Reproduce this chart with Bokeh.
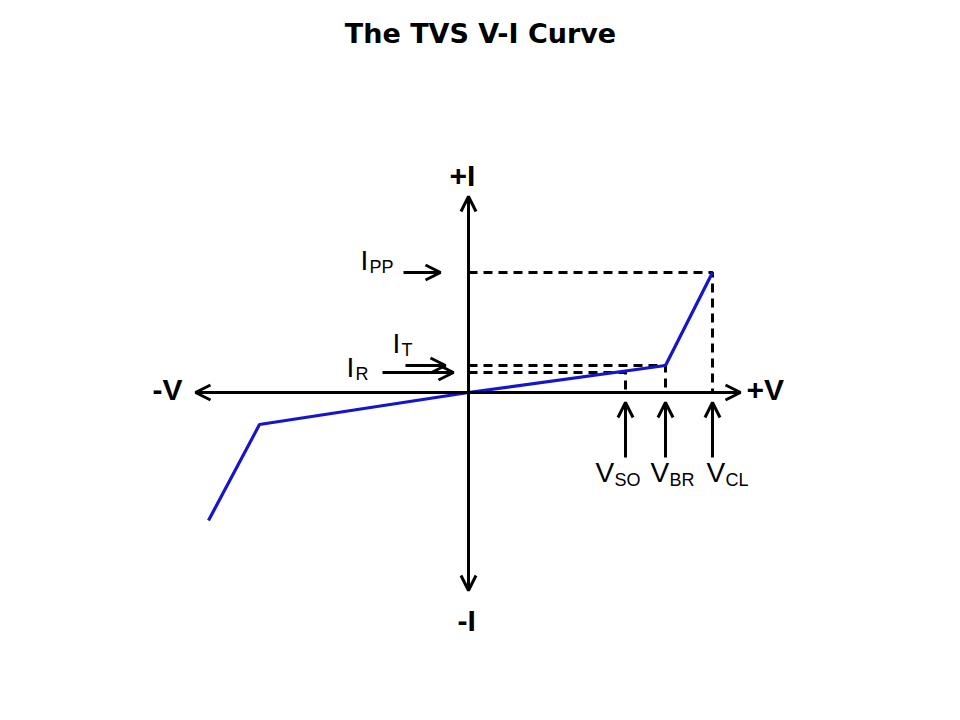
from bokeh.plotting import figure
from bokeh.models import Range1d, Arrow, OpenHead
from bokeh.core.properties import value
from bokeh.embed import file_html
from bokeh.resources import INLINE

# ---- data (diagram units, origin at the axis crossing) ----
curve_v = [-260, -209, 0, 197, 244]
curve_i = [-128, -32, 0, 27, 120]

v_names = ["SO", "BR", "CL"]
v_marks = [157, 197, 244]          # V_SO, V_BR, V_CL

i_names = ["R", "T", "PP"]
i_marks = [20, 27, 120]            # I_R, I_T, I_PP
i_arrow_start = [-86, -63, -65]
i_arrow_end = [-15, -23, -28]

axis_v = [-273, 272]
axis_i = [-198, 196]

title = "The TVS V-I Curve"

FONT = "Liberation Sans"
BLUE = "#1515cc"
DY = 10  # text baseline correction

p = figure(width=944, height=704, output_backend="svg", toolbar_location=None,
           x_range=Range1d(-468, 476), y_range=Range1d(-312, 392),
           min_border=0)
p.axis.visible = False
p.grid.visible = False
p.outline_line_color = None
p.background_fill_color = "white"

# dashed reference lines
xs, ys = [], []
for vm, im in zip(v_marks, i_marks):
    xs.append([0, vm, vm])
    ys.append([im, im, 0])
p.multi_line(xs, ys, line_color="black", line_width=3, line_dash="9 6")

# V-I curve
p.line(curve_v, curve_i, line_color=BLUE, line_width=3.2)

# axes with arrow heads
def head():
    return OpenHead(size=15, line_width=3, line_color="black")

p.add_layout(Arrow(start=head(), end=head(), x_start=axis_v[0], y_start=0,
                   x_end=axis_v[1], y_end=0, line_width=3, line_color="black"))
p.add_layout(Arrow(start=head(), end=head(), x_start=0, y_start=axis_i[0],
                   x_end=0, y_end=axis_i[1], line_width=3, line_color="black"))

# current label arrows
for im, a0, a1 in zip(i_marks, i_arrow_start, i_arrow_end):
    p.add_layout(Arrow(end=head(), x_start=a0, y_start=im, x_end=a1, y_end=im,
                       line_width=3, line_color="black"))

# voltage label arrows
for vm in v_marks:
    p.add_layout(Arrow(end=head(), x_start=vm, y_start=-65, x_end=vm, y_end=-10,
                       line_width=3, line_color="black"))

# axis labels
p.text(x=[-19, -11, -316, 278], y=[207 + DY, -238 + DY, -7 + DY, -7 + DY],
       text=["+I", "-I", "-V", "+V"],
       text_font=value(FONT), text_font_style="bold", text_font_size="30px",
       text_color="black", text_align="left", text_baseline="alphabetic")

# current labels (I with subscript)
i_lab_x = [-122, -76, -108]
i_lab_y = [15 + DY, 39 + DY, 122 + DY]
p.text(x=i_lab_x, y=i_lab_y, text=["I"] * 3, text_font=value(FONT),
       text_font_size="28px", text_color="black", text_baseline="alphabetic")
p.text(x=[x + 9 for x in i_lab_x], y=[y - 6 for y in i_lab_y], text=i_names,
       text_font=value(FONT), text_font_size="18px", text_color="black",
       text_baseline="alphabetic")

# voltage labels (V with subscript)
v_lab_x = [127, 182, 238]
p.text(x=v_lab_x, y=[-90 + DY] * 3, text=["V"] * 3, text_font=value(FONT),
       text_font_size="28px", text_color="black", text_baseline="alphabetic")
p.text(x=[x + 19 for x in v_lab_x], y=[-97 + DY] * 3, text=v_names,
       text_font=value(FONT), text_font_size="18px", text_color="black",
       text_baseline="alphabetic")

# title
p.text(x=[12], y=[359], text=[title], text_font=value("DejaVu Sans"),
       text_font_style="bold", text_font_size="27px", text_color="black",
       text_align="center", text_baseline="middle")

open("out.html", "w").write(file_html(p, INLINE))
